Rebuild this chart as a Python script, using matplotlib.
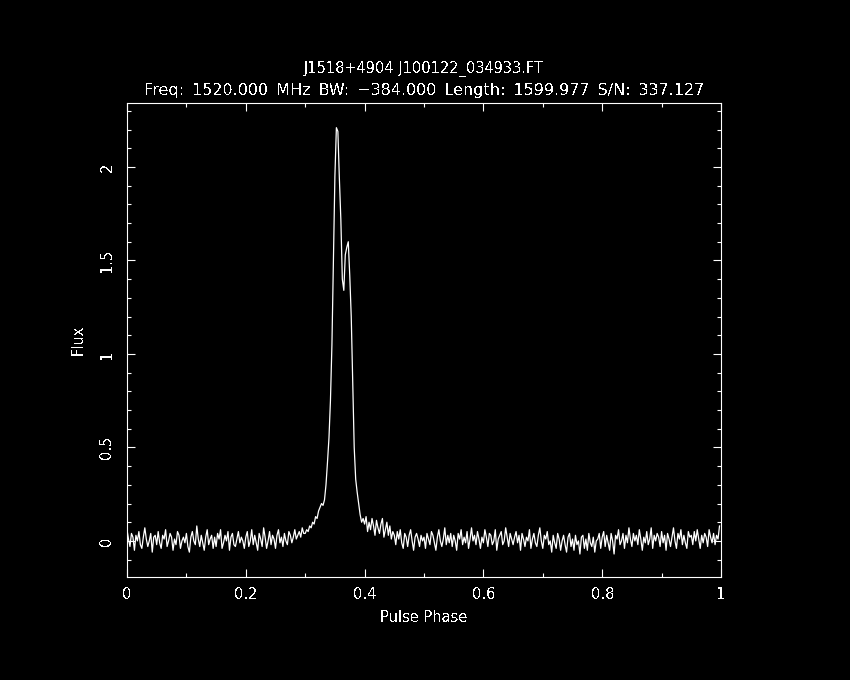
import numpy as np
import matplotlib
matplotlib.use("Agg")
import matplotlib.pyplot as plt
from matplotlib.ticker import MultipleLocator

# profile values in units of 0.01 flux, 400 phase bins
flux_centi = [
    6, 1, -3, 4, 2, -5, 3, 0, 5, -2, -4, 2, 7, 1, -3, 0, 4, -6, 2, 3,
    -2, 5, -1, -4, 3, 1, 6, -3, 0, 4, 2, -5, 1, -2, 5, 3, -4, 0, 2, -1,
    4, -3, -6, 2, 5, 0, -2, 8, 1, -3, 3, -1, -5, 2, 6, -2, 1, 3, -4, 2,
    -3, 4, 1, 6, -4, -1, 3, 0, 5, -5, 2, 4, -2, -3, 1, 5, -1, 2, 0, -4,
    2, 5, -3, 0, 6, -2, 3, -1, -5, 4, 1, -3, 7, 2, -4, 0, 5, -2, 3, 1,
    -4, 3, 6, -1, 2, -3, 4, 0, -2, 5, 3, -1, 2, 6, 1, 3, 5, 2, 7, 4,
    4, 6, 5, 8, 7, 10, 9, 13, 12, 16, 18, 20, 19, 22, 30, 42, 55, 75, 105, 150,
    195, 221, 219, 194, 172, 140, 134, 153, 157, 160, 142, 120, 85, 50, 33, 26, 20, 14, 10, 12,
    9, 13, 5, 10, 6, 12, 8, 3, 11, 7, 4, 9, 12, 2, 6, 10, 3, 8, 1, 5,
    3, -2, 5, 1, 6, -1, -4, 4, 2, -3, 3, 6, 0, -5, 2, 4, 1, -3, 3, 0,
    2, -4, 4, 1, -2, 5, 3, -1, -5, 2, 6, 0, -3, 1, 7, -2, 3, -1, 4, -3,
    3, 0, -5, 4, 1, 6, -2, 2, -1, 5, -4, 1, 7, 0, 3, -2, 5, 1, -4, 2,
    -1, 6, 2, -3, 4, 3, -2, 0, 6, -5, 1, 3, 5, -2, 0, 7, 2, -3, 4, 1,
    -2, 2, 5, -1, 3, -5, 4, 1, -3, 2, 0, 6, -4, 1, 4, -1, -3, 3, 7, 0,
    -4, 3, 1, 5, -2, 0, -6, 3, -1, -4, 4, 1, -5, 0, 3, -2, -6, 2, 4, -3,
    1, -5, 3, -2, 0, -7, 2, 3, -4, 1, -5, 4, -1, -3, 2, -6, 0, 1, 4, -4,
    2, 5, -3, 3, -1, -5, 4, 0, -7, 3, 1, 6, -2, 0, 4, -4, 3, -1, 7, 1,
    -3, 4, 0, 3, -2, 6, 1, -5, 2, -1, 5, -2, 1, 7, -4, 3, 0, 4, 2, -3,
    5, -1, 3, -5, 4, 1, -3, 2, 7, 0, -4, 4, 1, 6, -2, 3, -1, -4, 5, 2,
    3, -2, 5, 0, 6, 1, -4, 3, -1, 4, 2, -3, 6, 2, -1, 4, -2, 3, 1, 8,
]
flux = np.array(flux_centi) / 100.0
phase = np.arange(len(flux)) / len(flux)

title1 = "J1518+4904 J100122_034933.FT"
title2 = "Freq: 1520.000 MHz BW: \u2212384.000 Length: 1599.977 S/N: 337.127"

fg = "white"
fs = 10.5

plt.rcParams["text.antialiased"] = False

fig = plt.figure(figsize=(8.5, 6.8), dpi=100, facecolor="black")
ax = fig.add_axes([127 / 850, 103 / 680, 594 / 850, 474 / 680], facecolor="black")

ax.plot(phase, flux, color=fg, lw=0.9)

ax.set_xlim(0, 1)
ax.set_ylim(-0.193, 2.342)

ax.xaxis.set_minor_locator(MultipleLocator(0.1))
ax.yaxis.set_minor_locator(MultipleLocator(0.1))
ax.set_xticks([0, 0.2, 0.4, 0.6, 0.8, 1])
ax.set_xticklabels(["0", "0.2", "0.4", "0.6", "0.8", "1"])
ax.set_yticks([0, 0.5, 1, 1.5, 2])
ax.set_yticklabels(["0", "0.5", "1", "1.5", "2"], rotation=90, va="center")

ax.tick_params(which="both", direction="in", top=True, right=True,
               colors=fg, labelsize=fs, width=0.8)
ax.tick_params(which="major", length=6)
ax.tick_params(which="minor", length=3)
ax.tick_params(axis="x", pad=7)
ax.tick_params(axis="y", pad=9)
for s in ax.spines.values():
    s.set_color(fg)
    s.set_linewidth(0.8)

ax.set_xlabel("Pulse Phase", color=fg, fontsize=fs, labelpad=6)
ax.set_ylabel("Flux", color=fg, fontsize=fs, labelpad=10)

fig.text(424 / 850, 1 - 69 / 680, title1, color=fg, fontsize=fs, ha="center", va="center")
fig.text(424 / 850, 1 - 90 / 680, title2.replace(" ", "\u2002"), color=fg, fontsize=11.5,
         ha="center", va="center")

fig.savefig("out.png", dpi=100, facecolor="black")
